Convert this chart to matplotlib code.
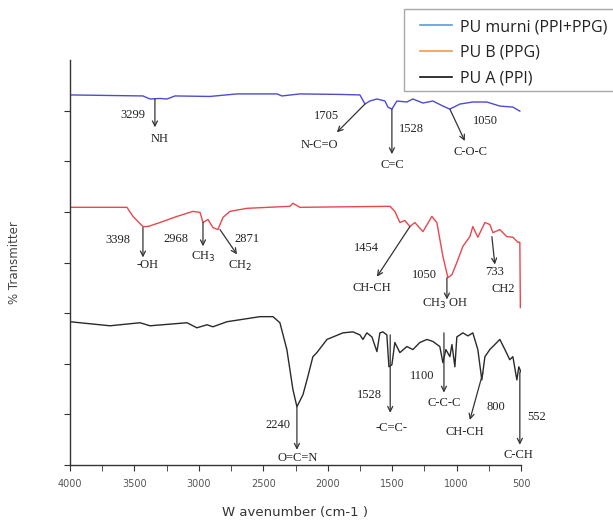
import numpy as np
import matplotlib
matplotlib.use('Agg')
import matplotlib.pyplot as plt
from matplotlib.lines import Line2D
from matplotlib.patches import Rectangle
from matplotlib.ticker import MultipleLocator

# ---- spectra (wavenumber, transmittance in arbitrary offset units)
wn_murni = [4000, 3434, 3379, 3302, 3247, 3185, 2914, 2704, 2394, 2355, 2216, 1905, 1750, 1711,
            1673, 1618, 1556, 1533, 1502, 1463, 1386, 1339, 1261, 1184, 1106, 1052, 974, 874,
            765, 664, 563, 509]
t_murni = [73.1, 72.9, 72.3, 72.4, 72.3, 72.9, 72.8, 73.3, 73.3, 72.9, 73.3, 73.2, 73.1, 71.3,
           71.9, 72.3, 71.9, 70.7, 70.3, 71.9, 71.7, 72.3, 71.5, 71.9, 70.9, 70.3, 71.3, 71.7,
           71.7, 70.9, 70.7, 69.9]

wn_pub = [4000, 3558, 3511, 3434, 3395, 3302, 3170, 3046, 2991, 2968, 2929, 2891, 2852, 2813,
          2759, 2627, 2293, 2270, 2216, 1517, 1479, 1440, 1401, 1362, 1324, 1261, 1192, 1153,
          1106, 1067, 1036, 998, 951, 897, 874, 835, 780, 742, 718, 664, 610, 563, 524, 509, 505]
t_pub = [50.9, 50.9, 49.1, 47.1, 47.1, 47.9, 49.1, 50.1, 49.9, 47.9, 48.5, 46.9, 46.5, 48.9,
         50.1, 50.7, 51.1, 51.7, 50.9, 51.1, 50.1, 47.9, 48.3, 47.1, 47.9, 46.1, 49.1, 47.9,
         41.2, 37.0, 37.6, 40.0, 43.2, 45.1, 47.1, 45.0, 47.9, 47.5, 45.9, 46.5, 45.1, 45.0,
         44.0, 44.0, 31.1]

wn_pua = [4000, 3690, 3457, 3379, 3092, 3015, 2937, 2891, 2782, 2526, 2425, 2371, 2317, 2270,
          2239, 2192, 2161, 2115, 2084, 2006, 1882, 1805, 1750, 1727, 1696, 1657, 1618, 1595,
          1572, 1541, 1525, 1502, 1479, 1440, 1386, 1339, 1285, 1230, 1184, 1130, 1106, 1083,
          1052, 1036, 1013, 998, 951, 912, 874, 835, 804, 780, 742, 703, 664, 625, 587, 563,
          532, 517, 501]
t_pua = [28.3, 27.5, 28.1, 27.5, 28.1, 27.1, 27.7, 27.3, 28.3, 29.3, 29.3, 28.1, 22.8, 14.9,
         11.5, 13.9, 16.8, 21.4, 22.2, 24.8, 26.1, 26.3, 25.7, 24.8, 26.1, 25.3, 22.4, 26.1,
         26.3, 25.7, 19.4, 19.8, 24.2, 22.2, 23.4, 22.8, 24.2, 24.8, 24.4, 23.4, 20.2, 22.8,
         21.4, 23.8, 19.4, 25.3, 26.1, 25.5, 26.1, 22.8, 16.8, 21.4, 22.8, 23.8, 24.8, 22.8,
         20.8, 21.4, 16.8, 19.4, 18.4]

series_names = ['PU murni (PPI+PPG)', 'PU B (PPG)', 'PU A (PPI)']

# ---- peak annotations: (number, num_x, num_y, group, grp_x, grp_y, arrow x0, y0, x1, y1)
peaks = [
    ('3299', 3511, 69.1, 'NH', 3302, 64.4, 3341, 72.3, 3341, 66.7),
    ('1705', 2006, 68.9, 'N-C=O', 2061, 63.2, 1711, 71.3, 1929, 65.7),
    ('1528', 1347, 66.3, 'C=C', 1502, 59.2, 1502, 70.3, 1502, 61.4),
    ('1050', 773, 67.9, 'C-O-C', 889, 61.8, 1052, 70.3, 936, 64.0),
    ('3398', 3628, 44.4, '-OH', 3395, 39.6, 3434, 46.9, 3434, 41.0),
    ('2968', 3178, 44.6, 'CH$_3$', 2968, 41.0, 2968, 47.9, 2968, 43.2),
    ('2871', 2627, 44.6, 'CH$_2$', 2681, 39.4, 2836, 46.5, 2704, 41.6),
    ('1454', 1696, 42.8, 'CH-CH', 1657, 34.9, 1362, 47.1, 1618, 37.2),
    ('1050', 1246, 37.6, 'CH$_3$ OH', 1091, 31.9, 1075, 37.0, 1075, 32.7),
    ('733', 703, 38.2, 'CH2', 641, 34.7, 726, 45.1, 703, 39.6),
    ('2240', 2386, 7.9, 'O=C=N', 2231, 1.4, 2239, 11.5, 2239, 3.0),
    ('1528', 1680, 13.9, '-C=C-', 1502, 7.3, 1515, 25.7, 1515, 10.3),
    ('1100', 1269, 17.6, 'C-C-C', 1098, 12.3, 1098, 26.1, 1098, 14.3),
    ('800', 695, 11.5, 'CH-CH', 936, 6.5, 796, 18.2, 897, 8.9),
    ('552', 377, 9.5, 'C-CH', 524, 2.0, 509, 18.4, 509, 4.0),
]

fig = plt.figure(figsize=(6.13, 5.26), dpi=100)
ax = fig.add_axes([70/613, 1-465/526, 451/613, 405/526])

ax.plot(wn_murni, t_murni, color='#4b4bd8', lw=1.0)
ax.plot(wn_pub, t_pub, color='#e8474c', lw=1.0)
ax.plot(wn_pua, t_pua, color='#2a2a2a', lw=1.0)

serif = 'Liberation Serif'
for num, nx, ny, grp, gx, gy, x0, y0, x1, y1 in peaks:
    ax.text(nx, ny, num, ha='center', va='center', fontsize=9, family=serif, color='#222222')
    ax.text(gx, gy, grp, ha='center', va='center', fontsize=9, family=serif, color='#222222')
    ax.annotate('', xy=(x1, y1), xytext=(x0, y0),
                arrowprops=dict(arrowstyle='->', lw=0.9, color='#333333', mutation_scale=9,
                                shrinkA=0, shrinkB=0))

ax.set_xlim(4000, 500)
ax.set_ylim(0, 80)
ax.xaxis.set_major_locator(MultipleLocator(500))
ax.xaxis.set_minor_locator(MultipleLocator(250))
ax.set_yticks(np.arange(0, 71, 10))
ax.set_yticklabels([])
for s in ['top', 'right']:
    ax.spines[s].set_visible(False)
for s in ['left', 'bottom']:
    ax.spines[s].set_color('#333333')
    ax.spines[s].set_linewidth(1.0)
ax.tick_params(axis='x', which='both', direction='out', length=4, color='#333333',
               labelsize=7, labelcolor='#555555', pad=6)
ax.tick_params(axis='y', direction='out', length=4, color='#333333')
for lab in ax.get_xticklabels():
    lab.set_family('DejaVu Sans')

ax.set_xlabel('W avenumber (cm-1 )', fontsize=9.5, color='#333333', labelpad=12,
              family='DejaVu Sans')
ax.set_ylabel('% Transmitter', fontsize=8.5, color='#444444', labelpad=28,
              family='DejaVu Sans')

# legend box (runs off the right edge as in the source image)
fig.patches.append(Rectangle((404/613, 1-91/526), 212/613, 82/526, transform=fig.transFigure,
                             facecolor='white', edgecolor='#a8a8a8', lw=1.0, zorder=5))
handles = [Line2D([], [], color='#5b9bd5', lw=1.2),
           Line2D([], [], color='#ed9b52', lw=1.2),
           Line2D([], [], color='#111111', lw=1.2)]
leg = fig.legend(handles, series_names, loc='upper left', bbox_to_anchor=(420/613, 1-19/526),
                 frameon=False, handlelength=2.0, handletextpad=0.5, labelspacing=0.6,
                 borderaxespad=0, borderpad=0, prop={'family': 'Open Sans', 'size': 11.5})
leg.set_zorder(6)
for t in leg.get_texts():
    t.set_color('#222222')

fig.savefig('out.png', dpi=100)
